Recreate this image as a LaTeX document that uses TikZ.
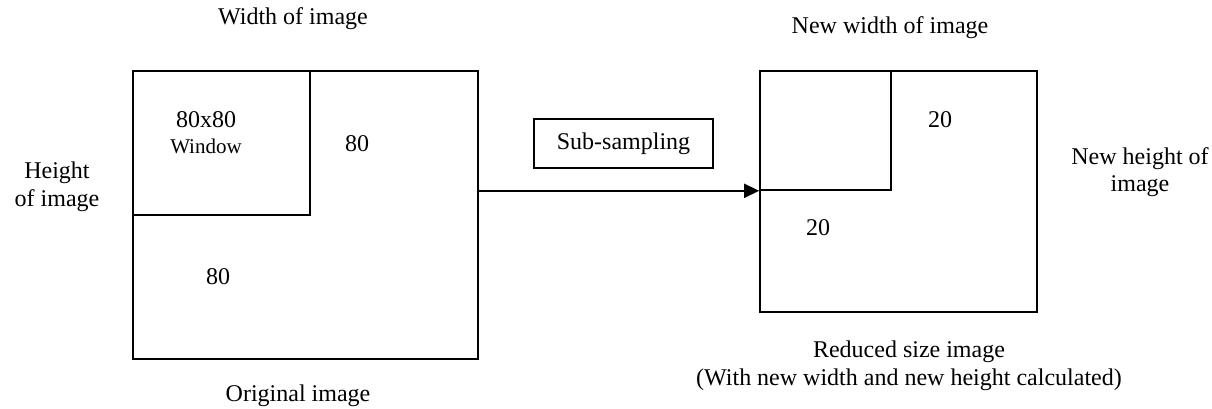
\documentclass[tikz,border=0pt]{standalone}
\usepackage{fontspec}
\setmainfont{Liberation Serif}
\usetikzlibrary{arrows.meta}
\begin{document}
\begin{tikzpicture}[x=1pt,y=-1pt,
  box/.style={draw,line width=1.6pt,inner sep=0pt,minimum width=#1},
  lbl/.style={inner sep=0pt,align=center,font=\fontsize{24}{27.5}\selectfont},
  small/.style={inner sep=0pt,align=center,font=\fontsize{21}{24}\selectfont},
  conn/.style={line width=1.6pt,-{Triangle[length=15pt,width=14pt]}}]
\useasboundingbox (0,0) rectangle (1212,408);
% original image
\node[box=345pt,minimum height=288pt] (orig) at (305.5,215) {};
\node[box=177pt,minimum height=144pt] (win) at (221.5,143) {};
% reduced image
\node[box=277pt,minimum height=241pt] (red) at (898.5,191.5) {};
\node[box=131pt,minimum height=119pt] (rwin) at (825.5,130.5) {};
% sub-sampling
\node[box=179pt,minimum height=49pt] (sub) at (623.5,143.5) {};
\node[lbl] (subt) at (sub.center) {Sub-sampling};
% arrow
\draw[conn] (rwin.south west -| orig.east) -- (rwin.south west);
% texts
\node[lbl] (w) at (293,19) {Width of image};
\node[lbl] (h) at (57,187) {Height\\of image};
\node[lbl] (w80) at (206,120) {80x80};
\node[small] (wn) at (206,146) {Window};
\node[lbl] (r80) at (357,144) {80};
\node[lbl] (b80) at (218,277) {80};
\node[lbl] (o) at (298,396) {Original image};
\node[lbl] (nw) at (890,28) {New width of image};
\node[lbl] (nh) at (1140,172) {New height of\\image};
\node[lbl] (r20) at (940,120) {20};
\node[lbl] (l20) at (818,228) {20};
\node[lbl] (rs) at (909,366) {Reduced size image\\(With new width and new height calculated)};
\end{tikzpicture}
\end{document}
